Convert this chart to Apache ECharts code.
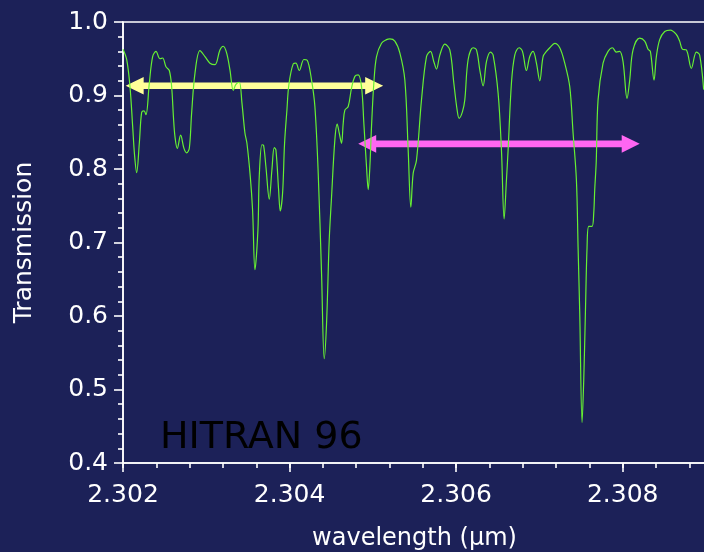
<!DOCTYPE html>
<html>
<head>
<meta charset="utf-8">
<script src="https://cdn.jsdelivr.net/npm/echarts@6/dist/echarts.min.js"></script>
<style>
  html, body { margin: 0; padding: 0; background: #1c2158; }
  #chart { width: 704px; height: 552px; }
</style>
</head>
<body>
<div id="chart"></div>
<script>
// Modelled transmission spectrum (HITRAN 96 line list)
const wavelength = [
  2.302000, 2.302044, 2.302084, 2.302116, 2.302138, 2.302164, 2.302196, 2.302224, 2.302252, 2.302276,
  2.302316, 2.302356, 2.302396, 2.302444, 2.302476, 2.302516, 2.302556, 2.302584, 2.302606, 2.302624,
  2.302652, 2.302692, 2.302732, 2.302764, 2.302796, 2.302824, 2.302864, 2.302924, 2.302984, 2.303044,
  2.303104, 2.303164, 2.303204, 2.303244, 2.303284, 2.303324, 2.303356, 2.303396, 2.303428, 2.303464,
  2.303488, 2.303528, 2.303556, 2.303584, 2.303620, 2.303636, 2.303668, 2.303688, 2.303716, 2.303756,
  2.303788, 2.303816, 2.303836, 2.303868, 2.303888, 2.303916, 2.303940, 2.303968, 2.303992, 2.304044,
  2.304076, 2.304116, 2.304172, 2.304212, 2.304264, 2.304304, 2.304344, 2.304384, 2.304416, 2.304444,
  2.304476, 2.304504, 2.304544, 2.304572, 2.304596, 2.304624, 2.304644, 2.304664, 2.304704, 2.304744,
  2.304784, 2.304824, 2.304864, 2.304892, 2.304924, 2.304944, 2.304964, 2.304984, 2.305012, 2.305044,
  2.305104, 2.305164, 2.305204, 2.305264, 2.305324, 2.305384, 2.305424, 2.305456, 2.305484, 2.305524,
  2.305584, 2.305644, 2.305692, 2.305732, 2.305764, 2.305804, 2.305864, 2.305924, 2.305972, 2.306012,
  2.306036, 2.306076, 2.306104, 2.306144, 2.306204, 2.306244, 2.306284, 2.306324, 2.306364, 2.306412,
  2.306444, 2.306504, 2.306544, 2.306576, 2.306604, 2.306624, 2.306664, 2.306704, 2.306756, 2.306796,
  2.306844, 2.306884, 2.306924, 2.306964, 2.307004, 2.307044, 2.307084, 2.307124, 2.307184, 2.307244,
  2.307304, 2.307364, 2.307404, 2.307444, 2.307464, 2.307484, 2.307512, 2.307532, 2.307552, 2.307572,
  2.307592, 2.307632, 2.307652, 2.307664, 2.307682, 2.307704, 2.307764, 2.307824, 2.307876, 2.307924,
  2.307964, 2.308004, 2.308052, 2.308084, 2.308124, 2.308204, 2.308264, 2.308304, 2.308332, 2.308376,
  2.308404, 2.308444, 2.308504, 2.308572, 2.308644, 2.308684, 2.308716, 2.308764, 2.308824, 2.308884,
  2.308924, 2.308972
];
const transmission = [
  0.963, 0.949, 0.912, 0.858, 0.820, 0.795, 0.835, 0.877, 0.879, 0.874,
  0.917, 0.953, 0.960, 0.950, 0.951, 0.939, 0.934, 0.912, 0.870, 0.844,
  0.828, 0.846, 0.828, 0.822, 0.828, 0.876, 0.930, 0.961, 0.953, 0.944,
  0.942, 0.962, 0.967, 0.958, 0.935, 0.907, 0.915, 0.918, 0.890, 0.849,
  0.835, 0.790, 0.744, 0.663, 0.717, 0.790, 0.833, 0.832, 0.803, 0.759,
  0.799, 0.829, 0.826, 0.772, 0.743, 0.767, 0.835, 0.880, 0.915, 0.943,
  0.944, 0.934, 0.949, 0.948, 0.921, 0.885, 0.794, 0.658, 0.542, 0.590,
  0.703, 0.762, 0.840, 0.861, 0.849, 0.835, 0.862, 0.880, 0.885, 0.910,
  0.926, 0.928, 0.912, 0.862, 0.803, 0.772, 0.803, 0.858, 0.917, 0.953,
  0.971, 0.976, 0.977, 0.974, 0.958, 0.921, 0.826, 0.748, 0.794, 0.812,
  0.894, 0.953, 0.960, 0.946, 0.936, 0.955, 0.970, 0.962, 0.917, 0.880,
  0.869, 0.878, 0.894, 0.949, 0.965, 0.962, 0.935, 0.913, 0.946, 0.959,
  0.955, 0.903, 0.826, 0.732, 0.785, 0.826, 0.917, 0.955, 0.965, 0.960,
  0.934, 0.953, 0.960, 0.944, 0.920, 0.953, 0.960, 0.965, 0.971, 0.965,
  0.944, 0.912, 0.849, 0.785, 0.694, 0.604, 0.455, 0.513, 0.604, 0.694,
  0.722, 0.722, 0.740, 0.772, 0.810, 0.894, 0.944, 0.960, 0.965, 0.959,
  0.960, 0.946, 0.896, 0.921, 0.962, 0.978, 0.974, 0.963, 0.960, 0.921,
  0.953, 0.976, 0.987, 0.989, 0.983, 0.974, 0.963, 0.962, 0.937, 0.959,
  0.955, 0.908
];

// Double-headed range arrows: [start wavelength, end wavelength, transmission level]
const yellowSpan = [2.302032, 2.305124, 0.9132];
const magentaSpan = [2.304824, 2.308204, 0.8342];

// Axis ranges and tick steps
const xMin = 2.302, xMax = 2.309, xMajor = 0.002, xMinor = 0.0004;
const yMin = 0.4, yMax = 1.0, yMajor = 0.1;

const xTitle = 'wavelength (μm)';
const yTitle = 'Transmission';
const sourceLabel = 'HITRAN 96';

const FONT = 'DejaVu Sans';
const chart = echarts.init(document.getElementById('chart'), null, { renderer: 'canvas' });

function renderArrow(params, api) {
  const a = api.coord([api.value(0), api.value(2)]);
  const b = api.coord([api.value(1), api.value(2)]);
  const head = 18, halfHead = 8.8, halfShaft = 3.3;
  const y = a[1];
  const pts = [
    [a[0], y],
    [a[0] + head, y - halfHead],
    [a[0] + head, y - halfShaft],
    [b[0] - head, y - halfShaft],
    [b[0] - head, y - halfHead],
    [b[0], y],
    [b[0] - head, y + halfHead],
    [b[0] - head, y + halfShaft],
    [a[0] + head, y + halfShaft],
    [a[0] + head, y + halfHead]
  ];
  return {
    type: 'polygon',
    shape: { points: pts },
    style: { fill: api.visual('color') }
  };
}

const axisLineStyle = { color: '#ffffff', width: 1.6 };

chart.setOption({
  backgroundColor: '#1c2158',
  animation: false,
  grid: {
    left: 123, top: 22, right: -2, bottom: 89,
    outerBoundsMode: 'none',
    containLabel: false,
    show: true, borderColor: '#ffffff', borderWidth: 1.5,
    backgroundColor: 'transparent'
  },
  xAxis: [
    {
      type: 'value', min: xMin, max: xMax, interval: xMajor,
      name: xTitle, nameLocation: 'middle', nameGap: 64,
      nameTextStyle: { color: '#ffffff', fontFamily: FONT, fontSize: 24 },
      axisLine: { show: true, lineStyle: axisLineStyle },
      axisTick: { show: true, length: 9, lineStyle: { color: '#ffffff', width: 1.6 } },
      axisLabel: {
        color: '#ffffff', fontFamily: FONT, fontSize: 25, margin: 20,
        showMaxLabel: false,
        formatter: v => v.toFixed(3)
      },
      splitLine: { show: false }
    },
    {
      type: 'value', min: xMin, max: xMax, interval: xMinor,
      position: 'bottom',
      axisLine: { show: false },
      axisTick: { show: true, length: 5, lineStyle: { color: '#ffffff', width: 1.6 } },
      axisLabel: { show: false },
      splitLine: { show: false }
    }
  ],
  yAxis: {
    type: 'value', min: yMin, max: yMax, interval: yMajor,
    name: yTitle, nameLocation: 'middle', nameGap: 86, nameRotate: 90,
    nameTextStyle: { color: '#ffffff', fontFamily: FONT, fontSize: 25 },
    axisLine: { show: true, lineStyle: axisLineStyle },
    axisTick: { show: true, length: 9, lineStyle: { color: '#ffffff', width: 1.6 } },
    minorTick: { show: true, splitNumber: 5, length: 5, lineStyle: { color: '#ffffff', width: 1.6 } },
    axisLabel: {
      color: '#ffffff', fontFamily: FONT, fontSize: 25, margin: 15,
      formatter: v => v.toFixed(1)
    },
    splitLine: { show: false },
    minorSplitLine: { show: false }
  },
  graphic: [
    {
      type: 'text', left: 160, top: 419, z: 10,
      style: { text: sourceLabel, fill: '#000000', font: '38px "' + FONT + '"' }
    }
  ],
  series: [
    {
      type: 'custom',
      renderItem: renderArrow,
      xAxisIndex: 0, yAxisIndex: 0,
      data: [
        { value: yellowSpan, itemStyle: { color: '#ffff99' } },
        { value: magentaSpan, itemStyle: { color: '#ff66f2' } }
      ],
      z: 2,
      silent: true
    },
    {
      type: 'line',
      xAxisIndex: 0, yAxisIndex: 0,
      data: wavelength.map((w, i) => [w, transmission[i]]),
      showSymbol: false,
      smooth: 0.35,
      lineStyle: { color: '#66f033', width: 1.2 },
      z: 3,
      silent: true
    }
  ]
});
</script>
</body>
</html>
